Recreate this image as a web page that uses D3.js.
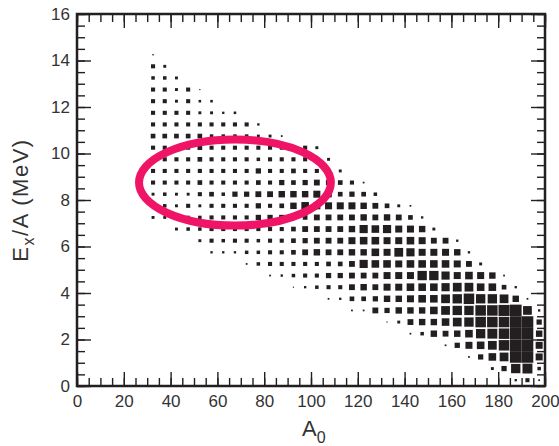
<!DOCTYPE html>
<html>
<head>
<meta charset="utf-8">
<script src="https://cdn.jsdelivr.net/npm/d3@7"></script>
<style>
  body { margin: 0; background: #fff; }
  svg { display: block; font-family: "Liberation Sans", Arial, sans-serif; }
</style>
</head>
<body>
<div id="main"></div>
<script>
const a0Bins = [32.5, 37.5, 42.5, 47.5, 52.5, 57.5, 62.5, 67.5, 72.5, 77.5, 82.5, 87.5,
  92.5, 97.5, 102.5, 107.5, 112.5, 117.5, 122.5, 127.5, 132.5, 137.5, 142.5, 147.5,
  152.5, 157.5, 162.5, 167.5, 172.5, 177.5, 182.5, 187.5, 192.5, 197.5];

const exBins = [14.25, 13.75, 13.25, 12.75, 12.25, 11.75, 11.25, 10.75, 10.25, 9.75,
  9.25, 8.75, 8.25, 7.75, 7.25, 6.75, 6.25, 5.75, 5.25, 4.75, 4.25, 3.75, 3.25, 2.75,
  2.25, 1.75, 1.25, 0.75, 0.25];

// first A0 bin that is filled in each Ex/A row
const rowFirstA0 = [32.5, 32.5, 32.5, 32.5, 32.5, 32.5, 32.5, 32.5, 32.5, 32.5,
  32.5, 32.5, 32.5, 32.5, 32.5, 42.5, 52.5, 57.5, 72.5, 82.5, 92.5, 107.5, 117.5, 132.5,
  142.5, 157.5, 167.5, 177.5, 187.5];

// box size, % of the bin
const rowSizes = [
  [12],
  [35, 25],
  [30, 30, 25],
  [35, 35, 25, 35, 10],
  [35, 35, 25, 35, 22, 22],
  [35, 35, 35, 35, 25, 25, 20, 22],
  [35, 35, 35, 35, 35, 35, 35, 35, 35, 20],
  [40, 40, 40, 40, 40, 30, 30, 30, 30, 25, 25, 15],
  [35, 35, 35, 35, 40, 35, 35, 35, 35, 35, 35, 35, 35, 35, 25],
  [35, 35, 35, 35, 40, 35, 35, 35, 35, 30, 35, 35, 35, 35, 35, 25],
  [35, 35, 35, 35, 35, 35, 35, 35, 35, 45, 35, 35, 40, 35, 35, 35, 25],
  [35, 35, 35, 35, 40, 35, 35, 35, 35, 40, 35, 45, 40, 45, 50, 45, 40, 35, 15],
  [25, 30, 25, 25, 35, 40, 30, 45, 45, 50, 50, 55, 55, 55, 60, 55, 40, 45, 40, 30],
  [25, 30, 25, 35, 25, 35, 35, 35, 35, 45, 35, 40, 55, 65, 60, 60, 60, 60, 55, 50, 40, 25, 15],
  [25, 25, 30, 30, 30, 35, 35, 35, 35, 45, 45, 45, 40, 40, 50, 50, 50, 50, 55, 50, 55, 50, 40, 20],
  [25, 30, 30, 35, 35, 35, 35, 35, 35, 35, 40, 50, 50, 50, 50, 55, 70, 65, 70, 60, 60, 55, 25],
  [25, 35, 30, 35, 35, 30, 35, 35, 40, 45, 50, 50, 50, 60, 65, 65, 60, 60, 65, 60, 50, 50, 20],
  [20, 20, 20, 30, 30, 35, 35, 40, 50, 55, 50, 50, 55, 55, 65, 60, 75, 70, 60, 60, 60, 55, 20],
  [15, 30, 35, 35, 35, 35, 35, 40, 40, 50, 70, 65, 65, 60, 65, 65, 65, 65, 60, 50, 25],
  [15, 20, 30, 35, 35, 45, 45, 50, 50, 50, 60, 60, 60, 80, 80, 70, 60, 65, 60, 55, 15],
  [10, 20, 30, 35, 35, 50, 55, 50, 60, 60, 65, 65, 65, 70, 75, 75, 65, 65, 40, 20],
  [15, 20, 40, 40, 45, 55, 55, 60, 65, 65, 75, 80, 90, 80, 80, 75, 55, 15],
  [15, 15, 50, 45, 55, 55, 55, 65, 75, 80, 80, 90, 90, 95, 100, 75, 20],
  [10, 25, 50, 55, 55, 65, 75, 80, 90, 90, 90, 100, 100, 45],
  [15, 30, 55, 50, 55, 65, 80, 85, 90, 100, 100, 55],
  [15, 45, 60, 65, 75, 90, 100, 100, 60],
  [15, 45, 65, 75, 100, 100, 60],
  [25, 45, 80, 85, 30],
  [20, 35, 15]
];

const xTickLabels = [0, 20, 40, 60, 80, 100, 120, 140, 160, 180, 200];
const yTickLabels = [0, 2, 4, 6, 8, 10, 12, 14, 16];

// highlighted region: centre (A0, Ex/A) and radii
const ringCenter = [67.5, 8.75];
const ringRadius = [41, 1.85];

const width = 559, height = 446;
const margin = {left: 77, right: 14, top: 14, bottom: 60};
const binA = 5, binE = 0.5;
const ink = "#231f20";

const x = d3.scaleLinear().domain([0, 200]).range([margin.left, width - margin.right]);
const y = d3.scaleLinear().domain([0, 16]).range([height - margin.bottom, margin.top]);

const svg = d3.select('#main')
  .append('svg')
  .attr('width', width)
  .attr('height', height);

const cells = rowSizes.flatMap((row, r) => {
  const first = a0Bins.indexOf(rowFirstA0[r]);
  return row.map((v, i) => ({a: a0Bins[first + i], e: exBins[r], v: v}));
});

const bw = x(binA) - x(0), bh = y(0) - y(binE);

svg.append('g')
  .selectAll('rect')
  .data(cells)
  .enter().append('rect')
  .attr('x', d => x(d.a) - bw * d.v / 200)
  .attr('y', d => y(d.e) - bh * d.v / 200)
  .attr('width', d => bw * d.v / 100)
  .attr('height', d => bh * d.v / 100)
  .attr('fill', ink);

const x0 = x.range()[0], x1 = x.range()[1];
const y0 = y.range()[0], y1 = y.range()[1];

const tickStyle = g => {
  g.select('.domain').remove();
  g.selectAll('.tick line').attr('stroke', ink).attr('stroke-width', 1.4);
  g.selectAll('.tick text').attr('fill', '#333').style('font-size', '17px');
};

// minor ticks
svg.append('g').attr('transform', `translate(0,${y0})`)
  .call(d3.axisBottom(x).tickValues(x.ticks(40)).tickSize(-8).tickFormat(''))
  .call(tickStyle);
svg.append('g').attr('transform', `translate(0,${y1})`)
  .call(d3.axisTop(x).tickValues(x.ticks(40)).tickSize(-8).tickFormat(''))
  .call(tickStyle);
svg.append('g').attr('transform', `translate(${x0},0)`)
  .call(d3.axisLeft(y).tickValues(y.ticks(32)).tickSize(-8).tickFormat(''))
  .call(tickStyle);
svg.append('g').attr('transform', `translate(${x1},0)`)
  .call(d3.axisRight(y).tickValues(y.ticks(32)).tickSize(-8).tickFormat(''))
  .call(tickStyle);

// major ticks
svg.append('g').attr('transform', `translate(0,${y0})`)
  .call(d3.axisBottom(x).tickValues(xTickLabels).tickSize(-14).tickPadding(9))
  .call(tickStyle);
svg.append('g').attr('transform', `translate(0,${y1})`)
  .call(d3.axisTop(x).tickValues(xTickLabels).tickSize(-14).tickFormat(''))
  .call(tickStyle);
svg.append('g').attr('transform', `translate(${x0},0)`)
  .call(d3.axisLeft(y).tickValues(yTickLabels).tickSize(-14).tickPadding(7))
  .call(tickStyle);
svg.append('g').attr('transform', `translate(${x1},0)`)
  .call(d3.axisRight(y).tickValues(yTickLabels).tickSize(-14).tickFormat(''))
  .call(tickStyle);

svg.append('rect')
  .attr('x', x0).attr('y', y1)
  .attr('width', x1 - x0).attr('height', y0 - y1)
  .attr('fill', 'none')
  .attr('stroke', ink)
  .attr('stroke-width', 2.5);

svg.append('ellipse')
  .attr('cx', x(ringCenter[0]))
  .attr('cy', y(ringCenter[1]))
  .attr('rx', x(ringRadius[0]) - x(0))
  .attr('ry', y(0) - y(ringRadius[1]))
  .attr('fill', 'none')
  .attr('stroke', '#ef1466')
  .attr('stroke-width', 8);

const xLabel = svg.append('text')
  .attr('x', 302)
  .attr('y', 436)
  .attr('fill', '#333')
  .style('font-size', '22px');
xLabel.append('tspan').text('A');
xLabel.append('tspan').attr('dy', 7).style('font-size', '16px').text('0');

const yLabel = svg.append('text')
  .attr('transform', `translate(28,${(y0 + y1) / 2}) rotate(-90)`)
  .attr('text-anchor', 'middle')
  .attr('fill', '#333')
  .style('font-size', '22px')
  .style('letter-spacing', '1.5px');
yLabel.append('tspan').text('E');
yLabel.append('tspan').attr('dy', 6).style('font-size', '16px').text('x');
yLabel.append('tspan').attr('dy', -6).text('/A (MeV)');
</script>
</body>
</html>
